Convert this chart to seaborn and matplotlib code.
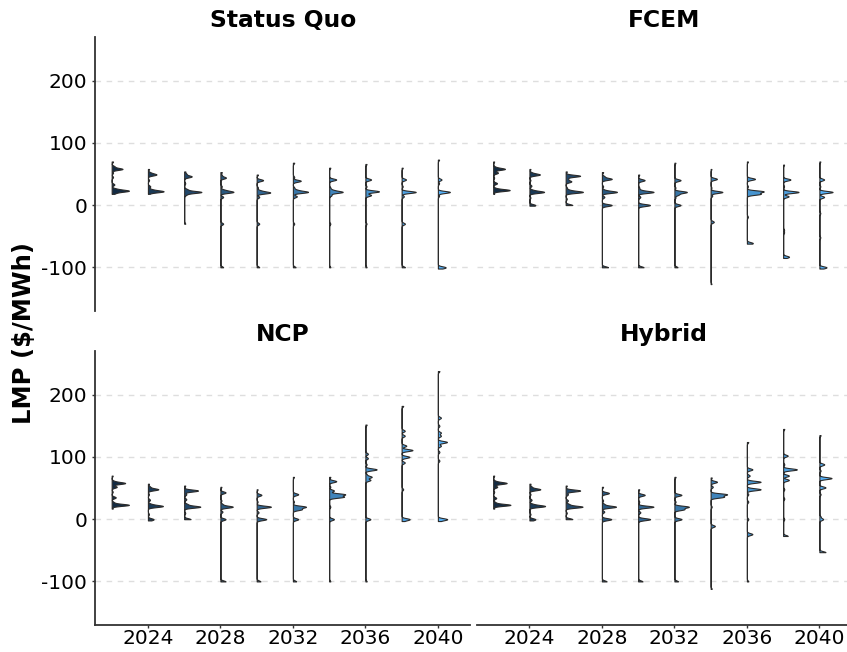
import numpy as np
import pandas as pd
import seaborn as sns
import matplotlib.pyplot as plt
from matplotlib.colors import LinearSegmentedColormap, to_hex

# data: for every violin a list of (price $/MWh, relative weight of that price)
years = [2022, 2024, 2026, 2028, 2030, 2032, 2034, 2036, 2038, 2040]
scenarios = ["Status Quo", "FCEM", "NCP", "Hybrid"]
year_ticks = [2024, 2028, 2032, 2036, 2040]
lmp_ticks = [-100, 0, 100, 200]
lmp_tick_labels = ["-100", "0", "100", "200"]

status_quo = [
    [(70, 1), (62, 2), (58, 8), (52, 1), (45, 1), (33, 2), (26, 3), (23, 12), (20, 2), (18, 1)],
    [(58, 1), (52, 2), (49, 7), (40, 1), (30, 2), (25, 3), (22, 13), (18, 1)],
    [(54, 1), (50, 2), (46, 7), (35, 1), (25, 3), (21, 16), (17, 2), (-30, 1)],
    [(53, 1), (48, 1), (44, 4), (30, 1), (24, 3), (21, 9), (13, 2), (-30, 2), (-100, 2)],
    [(49, 1), (40, 5), (28, 1), (23, 3), (20, 10), (13, 2), (-30, 2), (-100, 2)],
    [(68, 1), (45, 1), (39, 6), (28, 1), (24, 3), (21, 11), (14, 3), (-30, 1), (-100, 2)],
    [(60, 1), (41, 6), (28, 1), (24, 3), (21, 11), (16, 2), (-30, 1), (-100, 1)],
    [(66, 1), (41, 5), (30, 1), (22, 12), (16, 5), (-30, 1), (-100, 1)],
    [(60, 1), (41, 4), (30, 1), (21, 13), (14, 2), (-30, 3), (-100, 3)],
    [(73, 1), (41, 3), (35, 1), (21, 10), (15, 1), (-100, 6), (-102, 1)],
]
fcem = [
    [(70, 1), (61, 2), (58, 12), (52, 5), (44, 1), (35, 4), (27, 2), (24, 17), (18, 1)],
    [(58, 1), (52, 2), (49, 10), (40, 1), (31, 2), (24, 3), (21, 14), (12, 1), (0, 5), (-1, 1)],
    [(54, 1), (47, 13), (42, 2), (38, 5), (28, 1), (24, 3), (21, 15), (10, 1), (0, 6)],
    [(53, 1), (46, 2), (42, 8), (30, 1), (24, 2), (21, 12), (13, 2), (0, 8), (-100, 5)],
    [(49, 1), (40, 6), (28, 1), (24, 2), (21, 14), (13, 2), (0, 11), (-100, 5)],
    [(68, 1), (40, 6), (28, 1), (21, 12), (17, 4), (12, 1), (0, 6), (-100, 3)],
    [(58, 1), (42, 8), (28, 1), (21, 15), (15, 2), (-27, 4), (-127, 1)],
    [(70, 1), (42, 8), (30, 1), (22, 16), (18, 13), (-19, 1), (-61, 5), (-62, 1)],
    [(65, 1), (41, 8), (30, 1), (21, 17), (14, 6), (-40, 1), (-44, 1), (-83, 6), (-85, 1)],
    [(70, 1), (41, 5), (30, 1), (21, 14), (13, 5), (-13, 1), (-52, 1), (-100, 7), (-102, 1)],
]
ncp = [
    [(70, 1), (61, 2), (58, 13), (52, 5), (44, 1), (35, 4), (27, 2), (23, 17), (17, 1)],
    [(57, 1), (52, 2), (48, 10), (40, 1), (31, 2), (24, 3), (21, 14), (8, 1), (0, 5), (-2, 1)],
    [(54, 1), (46, 13), (40, 2), (32, 2), (24, 3), (20, 15), (10, 1), (0, 6)],
    [(52, 1), (43, 5), (30, 1), (24, 2), (20, 12), (12, 2), (0, 5), (-100, 5)],
    [(48, 1), (39, 5), (28, 1), (20, 15), (11, 2), (0, 10), (-100, 4)],
    [(68, 1), (40, 5), (28, 1), (20, 12), (16, 8), (0, 5), (-100, 3)],
    [(68, 1), (61, 6), (52, 1), (46, 4), (40, 13), (36, 12), (20, 1), (0, 4), (-100, 1)],
    [(152, 1), (105, 2), (98, 2), (88, 1), (80, 9), (72, 1), (68, 5), (63, 4), (0, 4), (-100, 1)],
    [(182, 1), (142, 2), (134, 2), (118, 3), (111, 7), (100, 5), (91, 2), (48, 1), (0, 5), (-3, 1)],
    [(238, 1), (163, 2), (150, 1), (139, 2), (134, 2), (124, 6), (118, 2), (108, 1), (94, 1), (0, 6), (-3, 1)],
]
hybrid = [
    [(70, 1), (61, 2), (58, 13), (52, 4), (44, 1), (34, 3), (27, 2), (23, 17), (17, 1)],
    [(57, 1), (52, 2), (48, 10), (40, 1), (31, 2), (24, 3), (21, 14), (8, 1), (0, 5), (-2, 1)],
    [(54, 1), (46, 13), (40, 2), (30, 2), (24, 3), (20, 15), (10, 1), (0, 6)],
    [(52, 1), (42, 6), (30, 1), (24, 2), (20, 12), (12, 2), (0, 8), (-100, 4)],
    [(48, 1), (39, 6), (28, 1), (20, 14), (11, 2), (0, 11), (-100, 4)],
    [(68, 1), (39, 6), (28, 1), (20, 12), (16, 8), (0, 6), (-100, 3)],
    [(67, 1), (60, 6), (52, 2), (40, 15), (36, 12), (20, 1), (-11, 4), (-112, 1)],
    [(124, 1), (80, 4), (70, 2), (60, 10), (48, 10), (40, 1), (28, 1), (0, 1), (-24, 4), (-100, 1)],
    [(145, 1), (102, 4), (88, 1), (80, 12), (70, 5), (63, 5), (48, 1), (33, 1), (0, 1), (-27, 4)],
    [(135, 1), (88, 4), (78, 1), (66, 10), (51, 5), (40, 1), (4, 1), (0, 3), (-53, 5)],
]

rows = []
for name, violins in zip(scenarios, [status_quo, fcem, ncp, hybrid]):
    for year, clusters in zip(years, violins):
        for price, n in clusters:
            rows += [(name, year, "right", price)] * n
df = pd.DataFrame(rows, columns=["scenario", "year", "side", "lmp"])

# year colour ramp, dark navy -> light blue (ggplot default gradient)
ramp = LinearSegmentedColormap.from_list("ramp", ["#132B43", "#56B1F7"])
year_colors = [to_hex(ramp(i / (len(years) - 1))) for i in range(len(years))]


def fixed_bw(kde):
    # same absolute bandwidth (in $/MWh) for every violin
    return 1.6 / np.std(kde.dataset, ddof=1)


sns.set_theme(style="white")
fig, axes = plt.subplots(2, 2, figsize=(8.47, 6.52), dpi=100, sharex=True, sharey=True)
fig.subplots_adjust(left=95 / 847, right=852 / 847, top=1 - 37 / 652, bottom=1 - 625 / 652,
                    wspace=0.016, hspace=0.147)

for ax, name in zip(axes.flat, scenarios):
    # split + empty "left" level -> half violins starting at the year
    sns.violinplot(data=df[df.scenario == name], x="year", y="lmp", hue="side",
                   hue_order=["left", "right"], palette={"left": "white", "right": year_colors[0]},
                   split=True, dodge=True, native_scale=True,
                   inner=None, cut=0, gridsize=900, bw_method=fixed_bw,
                   density_norm="count", common_norm=True, width=0.95,
                   linewidth=0.8, linecolor="#2b2b2b", legend=False, ax=ax)
    for coll, c in zip(ax.collections, year_colors):
        coll.set_facecolor(c)
    ax.set_title(name, fontsize=16.8, fontweight="bold", color="black", pad=7)
    ax.set_xlabel("")
    ax.set_ylabel("")
    ax.set_xlim(2021.08, 2041.8)
    ax.set_ylim(-170, 270)
    ax.set_xticks(year_ticks)
    ax.set_yticks(lmp_ticks, lmp_tick_labels)
    ax.yaxis.grid(True, ls=(0, (4, 4)), color="#dedede", lw=1)
    ax.set_axisbelow(True)
    for s in ax.spines.values():
        s.set_visible(False)
    ax.tick_params(labelsize=14.5, colors="#333333", labelcolor="black", length=2.5, width=1)
    ax.tick_params(axis="x", pad=0.5)
    ax.tick_params(axis="y", pad=3)

for ax in axes[:, 0]:
    ax.spines["left"].set_visible(True)
    ax.spines["left"].set_color("#333333")
    ax.spines["left"].set_linewidth(1.3)
    ax.tick_params(left=True)
for ax in axes[:, 1]:
    ax.tick_params(left=False, labelleft=False)
for ax in axes[1, :]:
    ax.spines["bottom"].set_visible(True)
    ax.spines["bottom"].set_color("#333333")
    ax.spines["bottom"].set_linewidth(1.3)
    ax.tick_params(bottom=True, labelbottom=True)
for ax in axes[0, :]:
    ax.tick_params(bottom=False, labelbottom=False)

fig.text(0.028, 0.489, "LMP (\\$/MWh)", rotation=90, fontsize=17.5, fontweight="bold",
         color="black", ha="center", va="center")

fig.savefig("out.png", dpi=100)
